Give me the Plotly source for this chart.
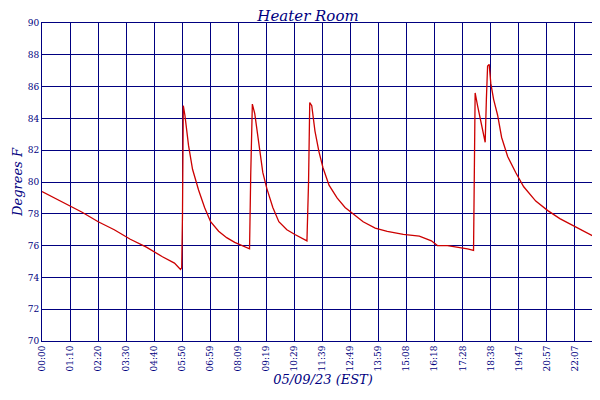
import plotly.graph_objects as go

# minutes after midnight and temperature (F)
minutes = [0, 30, 60, 100, 140, 180, 220, 260, 300, 330, 345, 348,
           350, 352, 356, 365, 375, 390, 405, 420, 440, 460, 480, 500, 517,
           520, 524, 530, 540, 550, 560, 575, 590, 610, 630, 650, 660,
           664, 667, 672, 680, 690, 700, 715, 735, 755, 775, 800, 830, 860, 900, 940, 970, 985, 1010, 1040, 1060, 1075,
           1076, 1077, 1079, 1085, 1095, 1102, 1104, 1107, 1110, 1114, 1118, 1125, 1135, 1145, 1160, 1180,
           1200, 1230, 1260, 1290, 1320, 1350, 1380, 1400]
temps = [79.4, 79.0, 78.6, 78.1, 77.5, 77.0, 76.4, 75.9, 75.3, 74.9, 74.5, 74.6,
         78.0, 84.8, 84.2, 82.3, 80.8, 79.5, 78.4, 77.5, 76.9, 76.5, 76.2, 76.0, 75.8,
         80.5, 84.9, 84.3, 82.5, 80.6, 79.6, 78.4, 77.5, 77.0, 76.7, 76.4, 76.3,
         80.0, 85.0, 84.8, 83.2, 81.9, 80.9, 79.8, 79.0, 78.4, 78.0, 77.5, 77.1, 76.9, 76.7, 76.6, 76.3, 76.0, 76.0, 75.9, 75.8, 75.7,
         77.8, 83.6, 85.6, 84.8, 83.5, 82.7, 82.5, 85.2, 87.3, 87.4, 86.2, 85.2, 84.2, 82.8, 81.6, 80.6,
         79.7, 78.8, 78.2, 77.7, 77.3, 76.9, 76.5, 76.3]

tick_text = ["00:00", "01:10", "02:20", "03:30", "04:40", "05:50", "06:59", "08:09", "09:19", "10:29",
             "11:39", "12:49", "13:59", "15:08", "16:18", "17:28", "18:38", "19:47", "20:57", "22:07", "23:17"]
tick_vals = [i * 69.85 for i in range(len(tick_text))]

navy = "#000080"
fnt = dict(family="DejaVu Serif", color=navy)

fig = go.Figure()
fig.add_trace(go.Scatter(x=minutes, y=temps, mode="lines", line=dict(color="#cc0000", width=1.3),
                         name="<i>Heater Room</i>"))
fig.update_layout(
    width=600, height=400, margin=dict(l=34, r=4, t=15, b=67, autoexpand=False),
    paper_bgcolor="white", plot_bgcolor="white",
    title=dict(text="<i>Heater Room</i>", x=0.5, y=0.995, yanchor="top", font=dict(size=15, **fnt)),
    showlegend=True,
    legend=dict(orientation="h", x=0.5, xanchor="center", y=-0.155, yanchor="top", font=dict(size=11, **fnt)),
    font=fnt,
)
fig.update_xaxes(range=[0, 1400], tickvals=tick_vals, ticktext=tick_text, tickangle=-90,
                 tickfont=dict(size=9, **fnt), showgrid=True, gridcolor=navy, gridwidth=1,
                 showline=True, linecolor=navy, mirror=True, linewidth=1, zeroline=False, automargin=False,
                 title=dict(text="<i>05/09/23 (EST)</i>", font=dict(size=13, **fnt), standoff=2))
fig.update_yaxes(range=[70, 90], dtick=2, tickfont=dict(size=9, **fnt), showgrid=True, gridcolor=navy,
                 showline=True, linecolor=navy, mirror=True, linewidth=1, zeroline=False, automargin=False,
                 title=dict(text="<i>Degrees F</i>", font=dict(size=13, **fnt), standoff=2))
fig.write_html("out.html")
